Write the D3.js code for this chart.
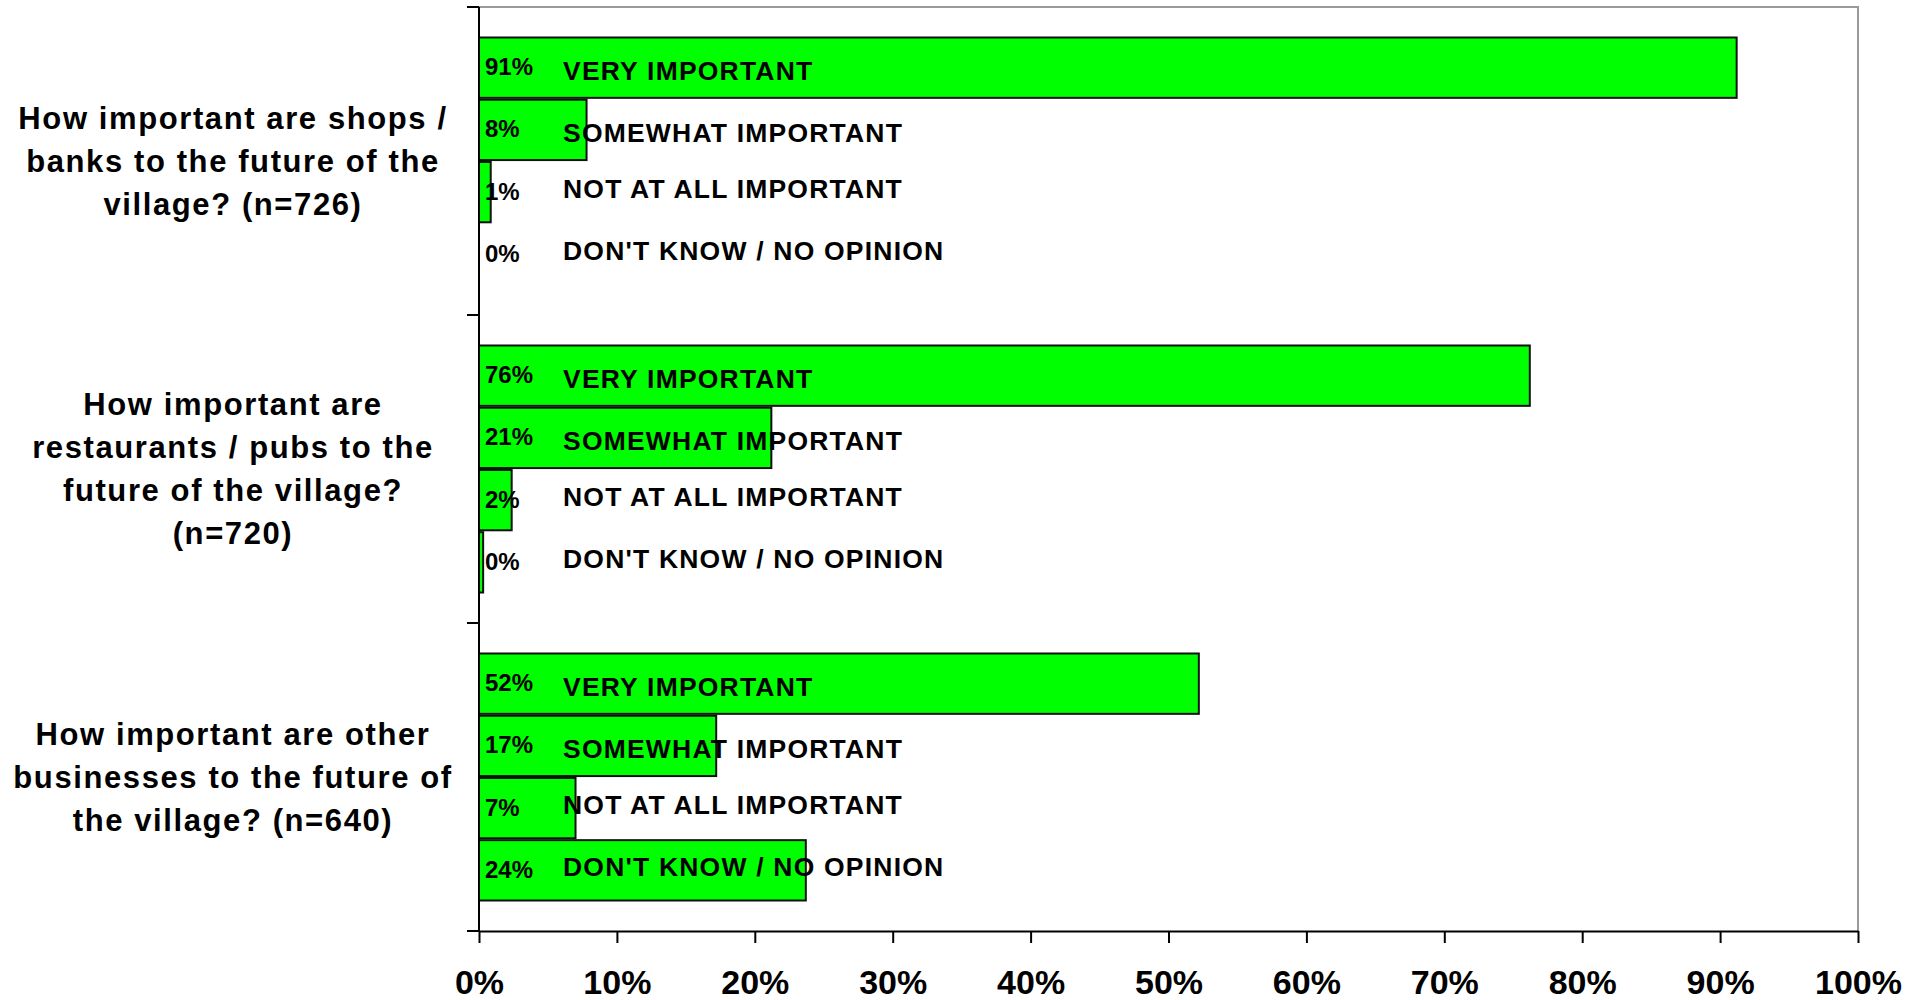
<!DOCTYPE html>
<html>
<head>
<meta charset="utf-8">
<script src="https://cdn.jsdelivr.net/npm/d3@7"></script>
<style>
    body { margin: 0; background: #fff; }
    text { font-family: "Liberation Sans", Arial, sans-serif; font-weight: bold; fill: #000; }
</style>
</head>
<body>
<svg id="chart" width="1921" height="1000"></svg>
<script>
// questions (top to bottom), each split into its display lines
var questions = [
    ["How important are shops /", "banks to the future of the", "village? (n=726)"],
    ["How important are", "restaurants / pubs to the", "future of the village?", "(n=720)"],
    ["How important are other", "businesses to the future of", "the village? (n=640)"]
];
var answers = ["VERY IMPORTANT", "SOMEWHAT IMPORTANT", "NOT AT ALL IMPORTANT", "DON'T KNOW / NO OPINION"];
var shopsBanks = [0.912, 0.078, 0.0085, 0];
var restaurantsPubs = [0.762, 0.212, 0.0237, 0.003];
var otherBusinesses = [0.522, 0.172, 0.070, 0.237];
var xTicks = [0, 0.1, 0.2, 0.3, 0.4, 0.5, 0.6, 0.7, 0.8, 0.9, 1];

var series = [shopsBanks, restaurantsPubs, otherBusinesses];

var svg = d3.select("#chart"),
    plotLeft = 479, plotRight = 1858, plotTop = 7, plotBottom = 931;

var x = d3.scaleLinear().domain([0, 1]).range([plotLeft, plotRight]);
var yGroup = d3.scaleBand().domain(d3.range(questions.length)).range([plotTop, plotBottom]);
var yBar = d3.scaleBand().domain(d3.range(answers.length))
    .range([0, yGroup.bandwidth()])
    .paddingInner(0.03)
    .paddingOuter(0.49);

// plot frame (top / right in grey)
svg.append("path")
    .attr("d", "M" + plotLeft + "," + plotTop + "H" + plotRight + "V" + plotBottom)
    .attr("fill", "none")
    .attr("stroke", "#9a9a9a")
    .attr("stroke-width", 2);

var rows = [];
series.forEach(function (vals, g) {
    vals.forEach(function (v, i) {
        rows.push({ g: g, i: i, v: v });
    });
});

function barY(d) {
    return yGroup(d.g) + yBar(d.i);
}

function barMid(d) {
    return barY(d) + yBar.bandwidth() / 2;
}

svg.append("g").selectAll("rect")
    .data(rows.filter(function (d) { return d.v > 0; }))
    .enter().append("rect")
    .attr("x", x(0))
    .attr("y", barY)
    .attr("width", function (d) { return x(d.v) - x(0); })
    .attr("height", yBar.bandwidth())
    .attr("fill", "#00ff00")
    .attr("stroke", "#111")
    .attr("stroke-width", 2);

// value labels
svg.append("g").selectAll("text")
    .data(rows)
    .enter().append("text")
    .attr("x", x(0) + 6)
    .attr("y", function (d) { return barMid(d) - 1; })
    .attr("dominant-baseline", "central")
    .attr("font-size", 24)
    .text(function (d) { return Math.round(d.v * 100) + "%"; });

// answer labels (the upper two sit a little low, the lower two a little high)
svg.append("g").selectAll("text")
    .data(rows)
    .enter().append("text")
    .attr("x", x(0) + 84)
    .attr("y", function (d) { return barMid(d) + (d.i < 2 ? 3 : -3); })
    .attr("dominant-baseline", "central")
    .attr("font-size", 26.5)
    .attr("letter-spacing", 1.2)
    .text(function (d) { return answers[d.i]; });

// question labels
var q = svg.append("g").selectAll("text")
    .data(questions)
    .enter().append("text")
    .attr("text-anchor", "middle")
    .attr("font-size", 31)
    .attr("letter-spacing", 1.6)
    .attr("y", function (d, g) {
        return yGroup(g) + yGroup.bandwidth() / 2 - (d.length - 1) * 43 / 2;
    });
q.each(function (lines) {
    var t = d3.select(this),
        y0 = +t.attr("y");
    t.selectAll("tspan")
        .data(lines)
        .enter().append("tspan")
        .attr("x", 233)
        .attr("y", function (l, i) { return y0 + i * 43; })
        .attr("dy", "0.35em")
        .text(function (l) { return l; });
});

// y axis with ticks at the group boundaries
var yAxis = svg.append("g")
    .attr("transform", "translate(" + plotLeft + ",0)");
yAxis.append("line")
    .attr("y1", plotTop).attr("y2", plotBottom)
    .attr("stroke", "#000").attr("stroke-width", 2);
yAxis.selectAll(".tick")
    .data(d3.range(questions.length + 1))
    .enter().append("line")
    .attr("x1", -12).attr("x2", 0)
    .attr("y1", function (g) { return plotTop + g * yGroup.step(); })
    .attr("y2", function (g) { return plotTop + g * yGroup.step(); })
    .attr("stroke", "#000").attr("stroke-width", 2);

// x axis
var xAxis = svg.append("g")
    .attr("transform", "translate(0," + plotBottom + ")")
    .call(d3.axisBottom(x).tickValues(xTicks).tickFormat(d3.format(".0%")).tickSize(12).tickSizeOuter(0).tickPadding(27));
xAxis.select(".domain").attr("stroke", "#000").attr("stroke-width", 2);
xAxis.selectAll(".tick line").attr("stroke", "#000").attr("stroke-width", 2);
xAxis.selectAll(".tick text")
    .attr("font-size", 34)
    .attr("font-family", "\"Liberation Sans\", Arial, sans-serif")
    .attr("font-weight", "bold")
    .attr("fill", "#000");
</script>
</body>
</html>
